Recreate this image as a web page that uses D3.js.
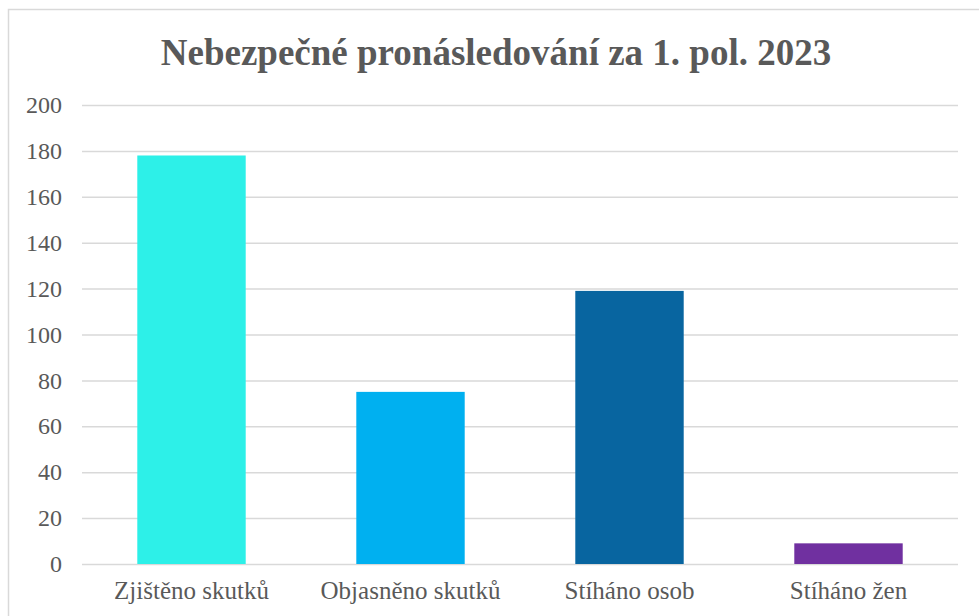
<!DOCTYPE html>
<html>
<head>
    <meta charset="utf-8">
    <script src="https://d3js.org/d3.v7.min.js"></script>
    <title>Nebezpečné pronásledování</title>
    <style>
        body { margin: 0; background: #fff; }
    </style>
</head>
<body>
<svg id="chart"></svg>
<script>
    // data
    const categories = ["Zjištěno skutků", "Objasněno skutků", "Stíháno osob", "Stíháno žen"];
    const values = [178, 75, 119, 9];
    const colors = ["#2df0e8", "#00b0f0", "#0865a0", "#7030a0"];
    const yTicks = [0, 20, 40, 60, 80, 100, 120, 140, 160, 180, 200];
    const title = "Nebezpečné pronásledování za 1. pol. 2023";

    const width = 979, height = 616;
    const margin = {top: 105, right: 21, bottom: 52, left: 82};
    const serif = "'Liberation Serif', 'Times New Roman', serif";

    const svg = d3.select("#chart")
        .attr("width", width)
        .attr("height", height)
        .attr("font-family", serif);

    // chart frame
    svg.append("rect")
        .attr("x", 8.5).attr("y", 9.5)
        .attr("width", width).attr("height", height)
        .attr("fill", "none")
        .attr("stroke", "#d9d9d9")
        .attr("stroke-width", 1.5);

    svg.append("text")
        .attr("x", 496)
        .attr("y", 65)
        .attr("text-anchor", "middle")
        .style("font-family", serif)
        .style("font-size", "37px")
        .style("font-weight", "bold")
        .style("fill", "#595959")
        .text(title);

    const x = d3.scaleBand()
        .domain(categories)
        .range([margin.left, width - margin.right])
        .paddingInner(0.505)
        .paddingOuter(0.2525);

    const y = d3.scaleLinear()
        .domain([0, 200])
        .range([height - margin.bottom, margin.top]);

    // gridlines
    svg.append("g")
        .attr("transform", `translate(${margin.left},0)`)
        .call(d3.axisLeft(y).tickValues(yTicks).tickSize(-(width - margin.left - margin.right)).tickFormat(""))
        .call(g => g.select(".domain").remove())
        .call(g => g.selectAll("line").attr("stroke", "#d9d9d9").attr("stroke-width", 1.5));

    // y labels
    svg.append("g")
        .selectAll("text")
        .data(yTicks)
        .join("text")
        .attr("x", 62)
        .attr("y", d => y(d))
        .attr("dy", "0.34em")
        .attr("text-anchor", "end")
        .style("font-family", serif)
        .style("font-size", "24px")
        .style("fill", "#595959")
        .text(d => d);

    svg.selectAll("rect.bar")
        .data(values)
        .join("rect")
        .attr("class", "bar")
        .attr("x", (d, i) => x(categories[i]))
        .attr("y", d => y(d))
        .attr("width", x.bandwidth())
        .attr("height", d => y(0) - y(d))
        .attr("fill", (d, i) => colors[i]);

    // x labels
    svg.append("g")
        .selectAll("text")
        .data(categories)
        .join("text")
        .attr("x", d => x(d) + x.bandwidth() / 2)
        .attr("y", 599)
        .attr("text-anchor", "middle")
        .style("font-family", serif)
        .style("font-size", "25px")
        .style("fill", "#595959")
        .text(d => d);
</script>
</body>
</html>
